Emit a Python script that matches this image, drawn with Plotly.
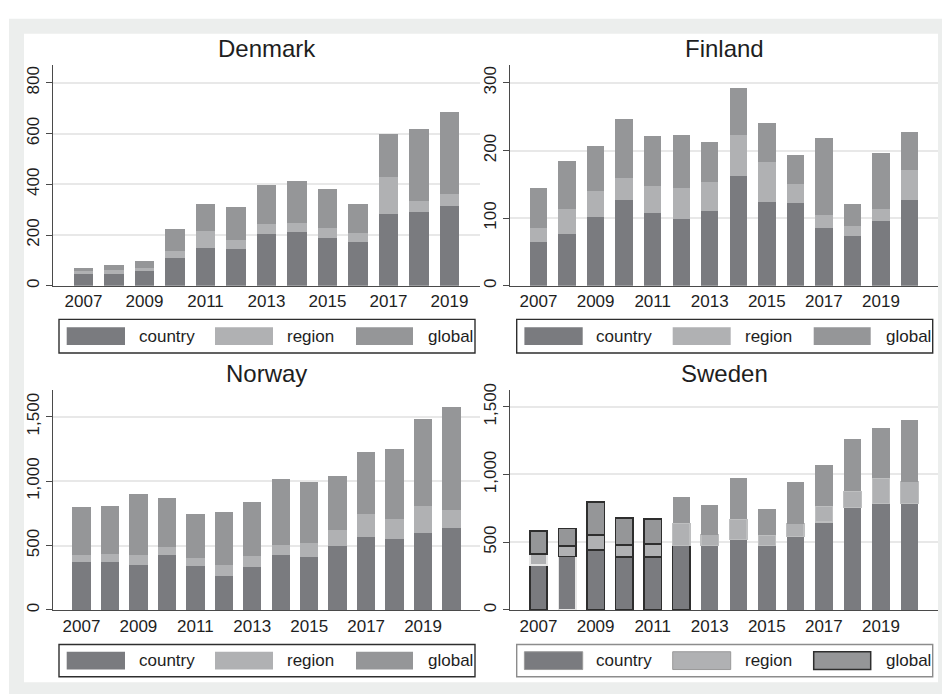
import plotly.graph_objects as go

W, H = 942, 696

# ---- data ---------------------------------------------------------------
years_dk = [2007, 2008, 2009, 2010, 2011, 2012, 2013, 2014, 2015, 2016, 2017, 2018, 2019]
years = [2007, 2008, 2009, 2010, 2011, 2012, 2013, 2014, 2015, 2016, 2017, 2018, 2019, 2020]

denmark_country = [47, 47, 57, 109, 147, 143, 203, 210, 190, 174, 283, 290, 314]
denmark_region = [11, 15, 14, 27, 69, 38, 42, 38, 37, 34, 146, 46, 48]
denmark_global = [11, 18, 28, 86, 105, 129, 151, 164, 156, 114, 170, 283, 322]

finland_country = [64, 76, 101, 127, 108, 99, 111, 162, 124, 122, 86, 74, 96, 127]
finland_region = [22, 38, 39, 33, 39, 45, 42, 61, 59, 28, 19, 15, 18, 44]
finland_global = [59, 71, 67, 87, 75, 79, 60, 69, 57, 44, 114, 32, 83, 57]

norway_country = [369, 369, 349, 428, 344, 262, 336, 423, 408, 497, 567, 554, 595, 633]
norway_region = [54, 64, 79, 64, 56, 87, 85, 82, 113, 126, 177, 156, 215, 146]
norway_global = [374, 375, 475, 380, 344, 413, 420, 508, 469, 415, 484, 541, 672, 800]

sweden_country = [334, 395, 444, 393, 390, 476, 476, 522, 476, 541, 649, 754, 785, 785]
sweden_region = [78, 76, 110, 85, 98, 165, 80, 146, 75, 96, 119, 122, 188, 161]
sweden_global = [171, 131, 241, 200, 183, 196, 222, 305, 193, 309, 305, 383, 371, 454]

series_names = ["country", "region", "global"]

# ---- styles -------------------------------------------------------------
COL_COUNTRY = "#7a7b7f"
COL_REGION = "#b0b1b3"
COL_GLOBAL = "#959698"
DARK = "#2e2e2e"
PALE = "#e6e6e6"
REGION_EDGE = "#bebfc0"
AXIS = "#4a4a4a"
GRID = "#e8e8e8"
TEXT = "#1e1e1e"
FONT = "Liberation Sans, Arial, sans-serif"

# Sweden's early bars carry drawn outlines on some segments
sw_country_line = dict(color=[DARK, PALE, DARK, DARK, DARK, DARK] + [COL_COUNTRY] * 8,
                       width=[1.6] * 6 + [0] * 8)
sw_region_line = dict(color=[PALE, DARK, DARK, DARK, DARK] + [REGION_EDGE] * 9,
                      width=[1.6] * 5 + [1.2] * 9)
sw_global_line = dict(color=[DARK] * 5 + [COL_GLOBAL] * 9,
                      width=[1.6] * 5 + [0] * 9)


def px_x(p):
    return p / W


def px_y(p):
    return 1 - p / H


panels = [
    dict(title="Denmark", years=years_dk,
         vals=(denmark_country, denmark_region, denmark_global),
         xdom=(53, 480), ydom=(60, 283), xrange=(2006, 2020), yrange=(0, 869),
         dtick=200, bw=0.655, legend=(59, 317, 34), title_y=43, lines=None,
         legend_border=DARK),
    dict(title="Finland", years=years,
         vals=(finland_country, finland_region, finland_global),
         xdom=(510, 938), ydom=(60, 283), xrange=(2006, 2021), yrange=(0, 326),
         dtick=100, bw=0.61, legend=(516.7, 317, 34), title_y=43, lines=None,
         legend_border=DARK),
    dict(title="Norway", years=years,
         vals=(norway_country, norway_region, norway_global),
         xdom=(53, 480), ydom=(388, 611), xrange=(2006, 2021), yrange=(0, 1711),
         dtick=500, bw=0.645, legend=(59, 646, 32.5), title_y=372, lines=None,
         legend_border=DARK),
    dict(title="Sweden", years=years,
         vals=(sweden_country, sweden_region, sweden_global),
         xdom=(510, 938), ydom=(388, 611), xrange=(2006, 2021), yrange=(0, 1627),
         dtick=500, bw=0.61, legend=(516.7, 646, 32.5), title_y=372,
         lines=(sw_country_line, sw_region_line, sw_global_line),
         legend_border="#8c8c8c"),
]

colors = [COL_COUNTRY, COL_REGION, COL_GLOBAL]

fig = go.Figure()
shapes = []
annotations = []

# outer grey frame with white inner panel
shapes.append(dict(type="rect", xref="paper", yref="paper", layer="below",
                   x0=px_x(9), x1=px_x(942), y0=px_y(696), y1=px_y(13),
                   fillcolor="#eceeed", line=dict(width=0)))
shapes.append(dict(type="rect", xref="paper", yref="paper", layer="below",
                   x0=px_x(24), x1=px_x(938), y0=px_y(684), y1=px_y(28),
                   fillcolor="#ffffff", line=dict(width=0)))

layout_axes = {}
for i, p in enumerate(panels, start=1):
    xa = "x" if i == 1 else f"x{i}"
    ya = "y" if i == 1 else f"y{i}"
    for k, name in enumerate(series_names):
        line = p["lines"][k] if p["lines"] else dict(width=0)
        fig.add_trace(go.Bar(
            x=p["years"], y=p["vals"][k], name=name,
            width=p["bw"], xaxis=xa, yaxis=ya, showlegend=False,
            marker=dict(color=colors[k], line=line),
        ))

    tickyears = [y for y in p["years"] if (y - 2007) % 2 == 0]
    layout_axes["xaxis" if i == 1 else f"xaxis{i}"] = dict(
        domain=[px_x(p["xdom"][0]), px_x(p["xdom"][1])],
        anchor=ya, range=list(p["xrange"]),
        tickvals=tickyears, ticktext=[str(t) for t in tickyears],
        ticks="", showgrid=False, zeroline=False,
        showline=True, linecolor=AXIS, linewidth=1.3,
        tickfont=dict(family=FONT, size=17, color=TEXT),
        fixedrange=True,
    )
    layout_axes["yaxis" if i == 1 else f"yaxis{i}"] = dict(
        domain=[px_y(p["ydom"][1]), px_y(p["ydom"][0])],
        anchor=xa, range=list(p["yrange"]), dtick=p["dtick"], tick0=0,
        tickformat=",d", tickangle=-90,
        ticks="outside", ticklen=6, tickwidth=1.2, tickcolor=AXIS,
        showgrid=True, gridcolor=GRID, gridwidth=1.5, zeroline=False,
        showline=True, linecolor=AXIS, linewidth=1.3,
        tickfont=dict(family=FONT, size=17, color=TEXT),
        fixedrange=True,
    )

    # panel title
    annotations.append(dict(
        text=p["title"], xref="paper", yref="paper",
        x=px_x((p["xdom"][0] + p["xdom"][1]) / 2), y=px_y(p["title_y"]),
        xanchor="center", yanchor="middle", showarrow=False,
        font=dict(family=FONT, size=24, color=TEXT),
    ))

    # legend box with wide swatches
    lx, ly, lh = p["legend"]
    shapes.append(dict(type="rect", xref="paper", yref="paper",
                       x0=px_x(lx), x1=px_x(lx + 416), y0=px_y(ly + lh), y1=px_y(ly),
                       fillcolor="#ffffff", line=dict(color=p["legend_border"], width=1.4)))
    sw_offsets = [(7.7, 66), (156, 214), (297, 354)]
    label_offsets = [77.7, 226, 367]
    for k, name in enumerate(series_names):
        a, b = sw_offsets[k]
        if p["lines"]:
            edge = [dict(color="#9a9a9a", width=1), dict(color="#999999", width=1),
                    dict(color=DARK, width=1.5)][k]
        else:
            edge = dict(width=0)
        pad = (lh - 18) / 2
        shapes.append(dict(type="rect", xref="paper", yref="paper",
                           x0=px_x(lx + a), x1=px_x(lx + b),
                           y0=px_y(ly + pad + 18), y1=px_y(ly + pad),
                           fillcolor=colors[k], line=edge))
        annotations.append(dict(
            text=name, xref="paper", yref="paper",
            x=px_x(lx + label_offsets[k]), y=px_y(ly + lh / 2),
            xanchor="left", yanchor="middle", showarrow=False,
            font=dict(family=FONT, size=17, color=TEXT),
        ))

fig.update_layout(
    width=W, height=H, margin=dict(l=0, r=0, t=0, b=0),
    paper_bgcolor="#ffffff", plot_bgcolor="rgba(0,0,0,0)",
    barmode="stack", showlegend=False,
    shapes=shapes, annotations=annotations,
    font=dict(family=FONT, color=TEXT),
    **layout_axes,
)

fig.write_html("out.html", config=dict(displayModeBar=False))
